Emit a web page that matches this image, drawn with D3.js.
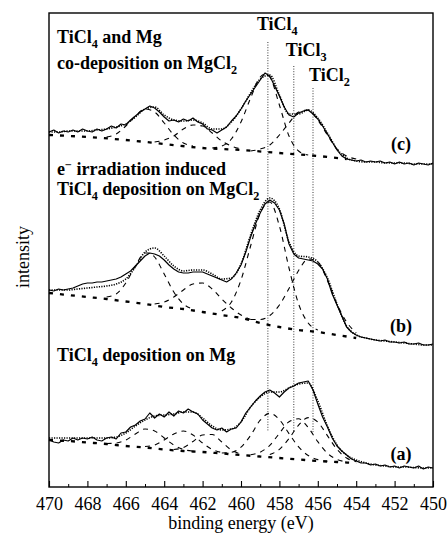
<!DOCTYPE html>
<html>
<head>
<meta charset="utf-8">
<script src="https://cdn.jsdelivr.net/npm/d3@7"></script>
<style>
  body { margin: 0; background: #fff; }
  svg text { font-family: "Liberation Serif", "DejaVu Serif", "Times New Roman", Times, serif; fill: #000; }
</style>
</head>
<body>
<svg id="chart" width="448" height="535"></svg>
<script>
// ---- data (intensity in arbitrary units, panels stacked with offsets) ----
const energyTicks = [470, 468, 466, 464, 462, 460, 458, 456, 454, 452, 450];

// measured spectra, 470 -> 450 eV in 0.25 eV steps (one row per eV)
const rawC = [
  355, 357, 354, 356,  355, 357, 355, 358,  356, 355, 358, 356,  358, 361, 359, 363,
  362, 367, 371, 375,  378, 381, 379, 375,  370, 366, 367, 365,  368, 366, 369, 365,
  363, 358, 357, 354,  357, 360, 366, 371,  378, 386, 393, 400,  407, 414, 411, 401,
  391, 380, 372, 370,  374, 376, 377, 373,  368, 361, 353, 345,  337, 331, 328, 327,
  326, 327, 325, 326,  325, 326, 324, 325,  323, 325, 323, 324,  322, 324, 323, 322,
  324
];
const rawB = [
  197, 196, 198, 197,  198, 199, 201, 203,  204, 204, 205, 205,  206, 207, 208, 210,
  213, 216, 221, 226,  231, 234, 233, 231,  227, 222, 218, 215,  214, 214, 215, 215,
  215, 213, 211, 209,  207, 205, 208, 214,  222, 235, 250, 263,  274, 283, 287, 284,
  277, 263, 243, 233,  229, 228, 227, 226,  223, 218, 208, 193,  182, 171, 160, 155,
  152, 150, 149, 148,  147, 146, 147, 145,  145, 144, 145, 143,  143, 144, 142, 142,
  143
];
const rawA = [
  47, 45, 44, 47,  46, 49, 47, 49,  48, 50, 47, 46,  49, 50, 48, 54,
  55, 60, 62, 66,  68, 74, 69, 73,  70, 75, 71, 76,  74, 78, 75, 73,
  67, 63, 59, 57,  59, 55, 58, 59,  65, 74, 80, 86,  91, 95, 97, 94,
  90, 95, 99, 101,  104, 105, 106, 97,  83, 70, 60, 49,  41, 36, 32, 28,
  26, 24, 24, 22,  23, 21, 22, 20,  21, 19, 21, 20,  19, 21, 18, 20,
  19
];

// fitted envelopes, 470 -> 450 eV in 0.5 eV steps
const fitC = [
  355, 355, 356, 356, 356, 357, 358, 360, 363, 370, 378, 380, 372, 367, 366, 367,
  364, 358, 358, 365, 378, 394, 408, 412, 392, 373, 373, 377, 369, 354, 338, 329,
  326, 325, 325, 324, 324, 324, 323, 323, 323
];
const fitB = [
  197, 197, 197, 198, 199, 200, 201, 203, 208, 220, 235, 239, 231, 221, 216, 217,
  217, 213, 208, 209, 223, 252, 277, 289, 278, 245, 231, 230, 225, 209, 183, 161,
  152, 149, 147, 146, 145, 144, 143, 142, 142
];
const fitA = [
  49, 49, 49, 49, 49, 49, 49, 50, 54, 61, 67, 71, 72, 73, 75, 75,
  69, 61, 57, 58, 65, 80, 90, 95, 95, 99, 103, 104, 86, 61, 42, 32,
  27, 24, 22, 21, 20, 20, 19.5, 19, 19
];

// backgrounds [energy, intensity]
const bgC = [[470, 352], [468, 350], [466, 347], [464, 343], [462, 339], [460, 337], [458, 334], [456, 331], [454.5, 328]];
const bgB = [[470, 194], [469, 192], [468, 190], [467, 188], [466, 185.5], [465, 183], [464, 180], [463, 178], [462, 175],
  [461, 172], [460, 169], [459, 164], [458, 160], [457, 157], [456, 155], [455, 152], [454, 149]];
const bgA = [[470, 47], [469, 46], [468, 44.5], [467, 43], [466, 41], [465, 39.5], [464, 37.5], [463, 36], [462, 35],
  [461, 33.5], [460, 32], [459, 30.5], [458, 29], [457, 27.5], [456, 26], [455, 25], [454, 24]];

// fitted components on top of background [energy, intensity]
const compsC = [
  [[467, 350], [466.5, 353], [466, 361], [465.5, 371], [465, 378], [464.5, 375], [464, 364], [463.5, 352], [463, 344], [462.5, 341]],
  [[464.5, 345], [464, 347], [463.5, 351], [463, 358], [462.5, 362], [462, 361], [461.5, 354], [461, 346], [460.5, 341], [460, 338]],
  [[461.5, 339], [461, 341], [460.5, 348], [460, 365], [459.5, 389], [459, 410], [458.75, 413], [458.5, 410], [458, 382], [457.5, 351], [457, 336], [456.5, 332]],
  [[459.5, 336], [459, 338], [458.5, 342], [458, 352], [457.5, 364], [457, 375], [456.5, 377], [456, 367], [455.5, 352], [455, 338], [454.5, 331], [454, 328]]
];
const compsB = [
  [[467, 190], [466.5, 193], [466, 204], [465.5, 221], [465, 234], [464.75, 234], [464.5, 230], [464, 213], [463.5, 195], [463, 183], [462.5, 178]],
  [[464.5, 183], [464, 185], [463.5, 190], [463, 197], [462.5, 203], [462, 204], [461.5, 198], [461, 188], [460.5, 179], [460, 172], [459.5, 167.5]],
  [[461, 176], [460.5, 185], [460, 207], [459.5, 241], [459, 274], [458.5, 285], [458, 261], [457.5, 219], [457, 183], [456.5, 164], [456, 157]],
  [[459.5, 167.5], [459, 167.5], [458.5, 171.5], [458, 182], [457.5, 198.5], [457, 216.5], [456.5, 228], [456, 225], [455.5, 206.5], [455, 183], [454.5, 165], [454, 154]]
];
const compsA = [
  [[467, 43.5], [466.5, 44], [466, 47], [465.5, 53], [465, 58], [464.5, 56], [464, 49], [463.5, 42], [463, 37.5], [462.5, 36]],
  [[465, 40.5], [464.5, 42], [464, 47], [463.5, 53], [463, 56], [462.5, 52], [462, 44], [461.5, 37.5], [461, 34.5]],
  [[463.5, 37.5], [463, 39.5], [462.5, 45.5], [462, 52], [461.5, 52.5], [461, 45], [460.5, 37], [460, 33]],
  [[461, 34], [460.5, 34.7], [460, 39.8], [459.5, 51.6], [459, 66.8], [458.5, 73.7], [458, 67.3], [457.5, 53.4], [457, 40.1], [456.5, 31.5], [456, 27.4], [455.5, 25.8]],
  [[459.5, 32.3], [459, 34.8], [458.5, 41.7], [458, 53.7], [457.5, 65.3], [457, 68.2], [456.5, 59.5], [456, 45.3], [455.5, 33.8], [455, 27.6], [454.5, 25.1]],
  [[458.5, 32.4], [458, 37.6], [457.5, 48.4], [457, 61.9], [456.5, 69.4], [456, 64.9], [455.5, 51.4], [455, 37.6], [454.5, 29], [454, 25.2]]
];

// reference binding energies
const refEnergies = [458.6, 457.25, 456.25];
const refSubs = ["4", "3", "2"];

// ---- layout ----
const W = 448, H = 535;
const margin = { top: 13, right: 15, bottom: 48, left: 49 };
const serif = "'Liberation Serif', 'DejaVu Serif', 'Times New Roman', Times, serif";
const svg = d3.select("#chart");

const x = d3.scaleLinear().domain([470, 450]).range([margin.left, W - margin.right]);
const y = d3.scaleLinear().domain([0, 474]).range([H - margin.bottom, margin.top]);

const rawEnergy = d3.range(81).map((i) => 470 - i * 0.25);
const fitEnergy = d3.range(41).map((i) => 470 - i * 0.5);

const panels = [
  { raw: rawC, fit: fitC, bg: bgC, comps: compsC },
  { raw: rawB, fit: fitB, bg: bgB, comps: compsB },
  { raw: rawA, fit: fitA, bg: bgA, comps: compsA },
];

const lineLin = d3.line().x((d) => x(d[0])).y((d) => y(d[1]));
const lineSmooth = d3.line().x((d) => x(d[0])).y((d) => y(d[1])).curve(d3.curveMonotoneX);

const plot = svg.append("g");

// reference lines (dotted verticals)
const refTop = [42, 66, 88];
refEnergies.forEach((e, i) => {
  plot.append("line")
    .attr("x1", x(e)).attr("x2", x(e))
    .attr("y1", refTop[i]).attr("y2", y(55))
    .attr("stroke", "#222").attr("stroke-width", 0.9)
    .attr("stroke-dasharray", "1,1.6");
});

panels.forEach((p) => {
  plot.append("path").datum(p.bg)
    .attr("d", lineSmooth)
    .attr("fill", "none").attr("stroke", "#000")
    .attr("stroke-width", 2.3).attr("stroke-dasharray", "4,7");

  p.comps.forEach((c) => {
    plot.append("path").datum(c)
      .attr("d", lineSmooth)
      .attr("fill", "none").attr("stroke", "#000")
      .attr("stroke-width", 1.1).attr("stroke-dasharray", "5,5");
  });

  plot.append("path").datum(p.fit.map((v, i) => [fitEnergy[i], v]))
    .attr("d", lineSmooth)
    .attr("fill", "none").attr("stroke", "#000")
    .attr("stroke-width", 1.6).attr("stroke-dasharray", "1.2,1.3");

  plot.append("path").datum(p.raw.map((v, i) => [rawEnergy[i], v]))
    .attr("d", lineLin)
    .attr("fill", "none").attr("stroke", "#000")
    .attr("stroke-width", 1.2).attr("stroke-linejoin", "round");
});

// frame
svg.append("rect")
  .attr("x", margin.left).attr("y", margin.top)
  .attr("width", W - margin.left - margin.right)
  .attr("height", H - margin.top - margin.bottom)
  .attr("fill", "none").attr("stroke", "#000").attr("stroke-width", 1.4);

// axis with inward ticks
const xAxis = svg.append("g")
  .attr("transform", `translate(0,${H - margin.bottom})`)
  .call(d3.axisBottom(x).tickValues(energyTicks).tickSize(-6).tickPadding(10).tickFormat(d3.format("d")));
xAxis.attr("font-family", serif).attr("font-size", 18);
xAxis.select(".domain").remove();
xAxis.selectAll("text").style("font-family", serif).style("font-size", "18px");
xAxis.selectAll("line").attr("stroke-width", 1.1);

const minor = svg.append("g")
  .attr("transform", `translate(0,${H - margin.bottom})`)
  .call(d3.axisBottom(x).tickValues(d3.range(469, 450, -2)).tickSize(-3).tickFormat(""));
minor.select(".domain").remove();

// axis titles
svg.append("text")
  .attr("x", (margin.left + W - margin.right) / 2).attr("y", 529)
  .attr("text-anchor", "middle").style("font-family", serif).style("font-size", "18px")
  .text("binding energy (eV)");

svg.append("text")
  .attr("transform", "translate(29,257) rotate(-90)")
  .attr("text-anchor", "middle").style("font-family", serif).style("font-size", "18px")
  .text("intensity");

// panel annotations
function subText(xp, yp, parts, size) {
  const t = svg.append("text").attr("x", xp).attr("y", yp)
    .style("font-family", serif).style("font-size", size + "px").style("font-weight", "bold");
  let shift = 0;
  parts.forEach((pt) => {
    const s = t.append("tspan").text(pt.t);
    const want = pt.sub ? 5 : pt.sup ? -6 : 0;
    s.attr("dy", want - shift);
    shift = want;
    if (pt.sub || pt.sup) s.style("font-size", size * 0.68 + "px");
  });
  return t;
}

subText(57, 43, [{ t: "TiCl" }, { t: "4", sub: true }, { t: " and Mg" }], 18);
subText(57, 69, [{ t: "co-deposition on MgCl" }, { t: "2", sub: true }], 18);
subText(57, 175, [{ t: "e" }, { t: "\u2212", sup: true }, { t: " irradiation induced" }], 18);
subText(57, 195, [{ t: "TiCl" }, { t: "4", sub: true }, { t: " deposition on MgCl" }, { t: "2", sub: true }], 18);
subText(57, 361, [{ t: "TiCl" }, { t: "4", sub: true }, { t: " deposition on Mg" }], 18);

const refLabelX = [-11, -8, -4];
const refLabelY = [30, 56, 81];
refEnergies.forEach((e, i) => {
  subText(x(e) + refLabelX[i], refLabelY[i], [{ t: "TiCl" }, { t: refSubs[i], sub: true }], 18);
});

[["(c)", 150], ["(b)", 332], ["(a)", 460]].forEach(([lab, yp]) => {
  svg.append("text").attr("x", 401).attr("y", yp)
    .attr("text-anchor", "middle")
    .style("font-family", serif).style("font-size", "18px").style("font-weight", "bold")
    .text(lab);
});
</script>
</body>
</html>
